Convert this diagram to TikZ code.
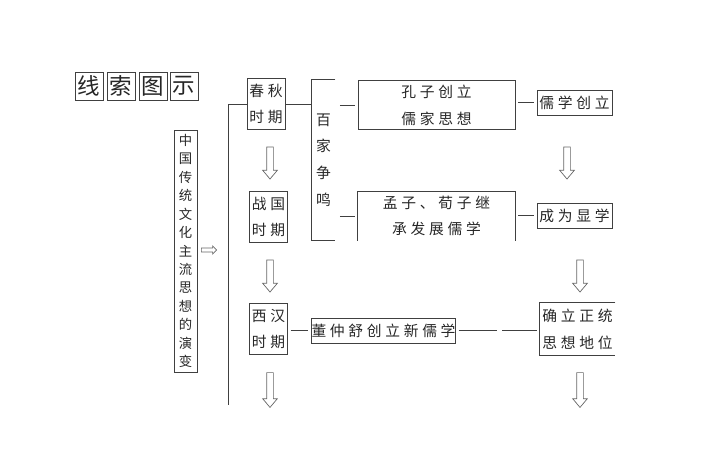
\documentclass[tikz,border=0pt]{standalone}
\usepackage{fontspec}
\newfontfamily\cjk[LetterSpace=25]{Noto Sans CJK SC}
\newfontfamily\cjkv{Noto Sans CJK SC}
\usetikzlibrary{positioning, shapes.arrows, calc}

\begin{document}
\begin{tikzpicture}[
    x=0.025cm, y=-0.025cm,
    every node/.style={align=center, inner sep=0pt, text=black!85},
    ink/.style={draw=black!75, line width=0.6pt},
    titlechar/.style={ink, font=\cjkv\fontsize{16}{16}\selectfont, minimum size=0.7cm},
    erabox/.style={ink, font=\cjk\fontsize{10.5}{19}\selectfont, minimum width=0.95cm, minimum height=1.28cm},
    evbox/.style={font=\cjk\fontsize{10.5}{19}\selectfont, minimum width=3.925cm, minimum height=1.23cm},
    resbox/.style={ink, font=\cjk\fontsize{10.5}{12}\selectfont, minimum width=1.875cm, minimum height=0.625cm},
    downarrow/.style={single arrow, draw=black!60, line width=0.5pt, shape border rotate=270, inner sep=0.075cm,
        minimum height=0.8cm, single arrow head extend=0.1cm, single arrow tip angle=80},
    link/.style={ink, shorten <=2pt, shorten >=2pt}
]
\useasboundingbox (0,0) rectangle (720,450);

% 标题
\node[titlechar] (t1) at (89,86) {线};
\node[titlechar] (t2) at (121,86) {索};
\node[titlechar] (t3) at (153,86) {图};
\node[titlechar] (t4) at (184,86) {示};

% 主题
\node[ink, font=\cjkv\fontsize{9.5}{13.1}\selectfont, minimum width=0.575cm, minimum height=6.05cm] (theme) at (185.5,251)
    {中\\国\\传\\统\\文\\化\\主\\流\\思\\想\\的\\演\\变};
\node[single arrow, draw=black!60, line width=0.5pt, inner sep=0.04cm, minimum height=0.38cm,
    single arrow head extend=0.05cm] (pointer) at (208,250) {};

% 时期
\node[erabox] (chunqiu) at (266,104) {春秋\\时期};
\node[erabox] (zhanguo) at (268.5,217) {战国\\时期};
\node[erabox] (xihan) at (268.5,329) {西汉\\时期};
\coordinate (trunkend) at (228,405);
\draw[ink] (chunqiu.west) -| (trunkend);

\node[downarrow] (d1) at (270,161) {};
\node[downarrow] (d2) at (270,274) {};
\node[downarrow, minimum height=0.87cm] (d3) at (270,388) {};

% 百家争鸣
\node[font=\cjkv\fontsize{10.5}{19}\selectfont, minimum width=0.575cm, minimum height=4cm] (baijia) at (323.5,160)
    {百\\家\\争\\鸣};
\draw[ink] (baijia.north east) -- (baijia.north west) -- (baijia.south west) -- (baijia.south east);
\draw[ink] (chunqiu.east) -- (baijia.west |- chunqiu.east);

% 儒学
\node[evbox, ink] (kongzi) at (436.5,105) {孔子创立\\儒家思想};
\node[evbox] (mengzi) at (436.5,216) {孟子、荀子继\\承发展儒学};
\draw[ink] (mengzi.south west) |- (mengzi.north east) -- (mengzi.south east);
\draw[ink, shorten <=20pt, shorten >=2pt] (baijia.west |- kongzi.west) -- (kongzi.west);
\draw[ink, shorten <=20pt, shorten >=2pt] (baijia.west |- mengzi.west) -- (mengzi.west);

\node[resbox] (rujia) at (574.5,102.5) {儒学创立};
\node[resbox] (xianxue) at (574.5,215.5) {成为显学};
\draw[link] (kongzi.east |- rujia.west) -- (rujia.west);
\draw[link] (mengzi.east |- xianxue.west) -- (xianxue.west);

\node[downarrow] (d4) at (567,161) {};
\node[downarrow] (d5) at (580,274) {};
\node[downarrow, minimum height=0.87cm] (d6) at (580,388) {};

% 西汉
\node[resbox, minimum width=3.575cm] (dong) at (383.5,330.5) {董仲舒创立新儒学};
\node[font=\cjk\fontsize{10.5}{19}\selectfont, minimum width=1.875cm, minimum height=1.3cm] (queli) at (577.5,329)
    {确立正统\\思想地位};
\draw[ink] (queli.north east) -| (queli.south west) -- (queli.south east);
\draw[link] (xihan.east |- dong.west) -- (dong.west);
\draw[link, dash pattern=on 27pt off 4pt] (dong.east) -- (dong.east -| queli.west);

\end{tikzpicture}
\end{document}
